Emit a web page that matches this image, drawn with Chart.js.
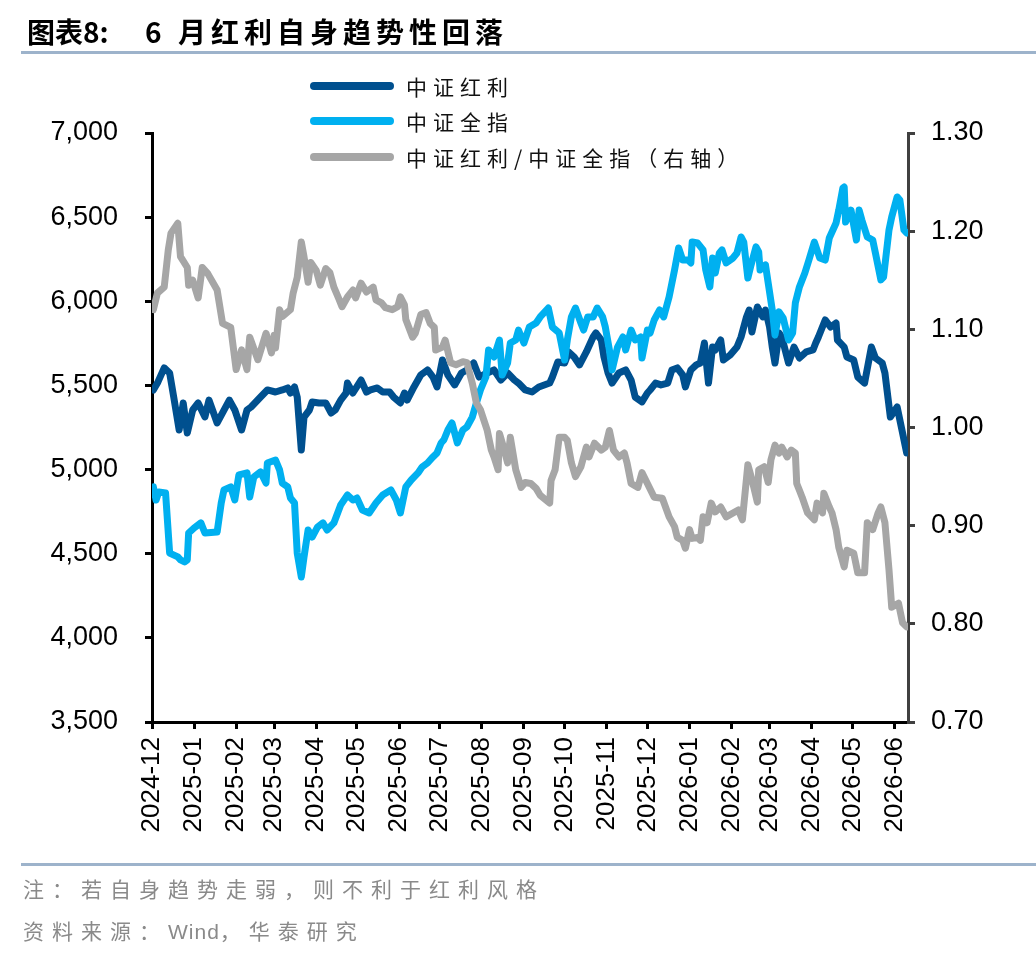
<!DOCTYPE html>
<html lang="zh">
<head>
<meta charset="UTF-8">
<title>6月红利自身趋势性回落</title>
<script src="https://cdn.jsdelivr.net/npm/chart.js"></script>
<style>
    body { margin: 0; background: #fff; }
    #wrap { position: relative; width: 1036px; height: 956px; overflow: hidden; }
    #chart { position: absolute; left: 0; top: 0; }
    .txt { position: absolute; white-space: nowrap; font-family: "Noto Sans CJK SC", sans-serif; }
    .rule { position: absolute; left: 21px; width: 1015px; height: 3px; background: #9db3cb; }
    .title { font-size: 28px; font-weight: 700; color: #000; line-height: 34px; top: 14px; }
    .leg-line { position: absolute; left: 310px; width: 84px; height: 8px; border-radius: 4px; }
    .leg-text { left: 406px; font-size: 21px; letter-spacing: 6px; color: #111; line-height: 26px; }
    .foot { left: 23px; font-size: 21px; letter-spacing: 8px; color: #8a8a8a; line-height: 26px; }
    .foot .en { letter-spacing: 1px; font-family: "Liberation Sans", Arial, sans-serif; }
</style>
</head>
<body>
<div id="wrap">
    <canvas id="chart" width="1036" height="956"></canvas>

    <div class="txt title" style="left:27px">图表8:</div>
    <div class="txt title" style="left:145px; letter-spacing:5px">6 月红利自身趋势性回落</div>
    <div class="rule" style="top:51px"></div>

    <div class="leg-line" style="top:82px; background:#00508f"></div>
    <div class="txt leg-text" style="top:73px">中证红利</div>
    <div class="leg-line" style="top:117px; background:#00b0f0"></div>
    <div class="txt leg-text" style="top:108px">中证全指</div>
    <div class="leg-line" style="top:153px; background:#a6a6a6"></div>
    <div class="txt leg-text" style="top:144px">中证红利/中证全指（右轴）</div>

    <div class="rule" style="top:863px"></div>
    <div class="txt foot" style="top:875px">注：若自身趋势走弱，则不利于红利风格</div>
    <div class="txt foot" style="top:917px">资料来源：<span class="en">Wind</span>，华泰研究</div>
</div>

<script>
    // x = days since 2024-12-01
    const monthLabels = ['2024-12', '2025-01', '2025-02', '2025-03', '2025-04', '2025-05', '2025-06',
        '2025-07', '2025-08', '2025-09', '2025-10', '2025-11', '2025-12', '2026-01', '2026-02',
        '2026-03', '2026-04', '2026-05', '2026-06'];

    // 中证红利 (left axis)
    const hongli = [[1,5473],[4,5514],[9,5604],[13,5574],[16,5431],[20,5235],[23,5396],[26,5217],[30,5354],[34,5396],
        [39,5313],[42,5413],[48,5277],[57,5413],[61,5354],[66,5235],[70,5354],[73,5372],[80,5431],[85,5473],
        [91,5461],[96,5473],[100,5485],[102,5455],[105,5491],[107,5431],[110,5116],[112,5312],[116,5354],[118,5402],
        [123,5396],[128,5396],[132,5336],[135,5354],[139,5413],[143,5455],[144,5514],[148,5455],[154,5532],[158,5461],
        [161,5473],[166,5485],[170,5461],[175,5461],[178,5431],[183,5396],[186,5455],[188,5413],[193,5491],[198,5562],
        [203,5592],[207,5550],[210,5491],[214,5651],[218,5562],[223,5503],[228,5574],[232,5592],[237,5633],[241,5550],
        [247,5574],[252,5592],[257,5532],[262,5574],[267,5532],[270,5514],[275,5473],[280,5461],[285,5491],[293,5514],
        [295,5550],[299,5639],[304,5633],[307,5699],[311,5669],[315,5622],[320,5699],[325,5788],[327,5812],[331,5770],
        [333,5669],[336,5574],[339,5514],[344,5574],[349,5592],[353,5532],[356,5431],[361,5402],[365,5455],[367,5473],
        [371,5514],[375,5503],[380,5514],[383,5592],[387,5604],[391,5562],[393,5491],[397,5592],[401,5622],[404,5633],
        [407,5752],[409,5592],[410,5514],[413,5728],[415,5711],[419,5770],[421,5651],[426,5681],[431,5728],[434,5788],
        [438,5907],[440,5948],[442,5818],[446,5966],[450,5907],[452,5948],[455,5847],[457,5728],[459,5633],[462,5812],
        [464,5788],[469,5633],[473,5728],[477,5663],[482,5699],[487,5711],[489,5752],[491,5788],[496,5889],[500,5847],
        [504,5871],[505,5770],[510,5728],[512,5669],[517,5651],[520,5550],[525,5514],[530,5728],[533,5663],[538,5633],
        [540,5574],[544,5312],[549,5372],[553,5217],[556,5099]];

    // 中证全指 (left axis)
    const quanzhi = [[1,4897],[3,4819],[5,4867],[10,4861],[13,4504],[19,4481],[21,4463],[24,4451],[26,4463],[27,4623],
        [31,4653],[36,4683],[39,4623],[48,4629],[51,4801],[53,4879],[58,4897],[61,4819],[64,4968],[70,4980],
        [72,4837],[75,4956],[80,4986],[84,4920],[85,5039],[91,5057],[94,4998],[96,4920],[100,4897],[102,4831],
        [105,4801],[107,4504],[110,4362],[112,4481],[115,4641],[118,4599],[122,4659],[126,4683],[129,4641],[134,4683],
        [139,4790],[144,4849],[148,4819],[151,4831],[155,4760],[160,4742],[165,4801],[170,4849],[176,4879],[180,4819],
        [183,4742],[187,4897],[191,4938],[196,4980],[199,5015],[203,5039],[207,5075],[210,5099],[213,5158],[215,5176],
        [218,5235],[221,5277],[225,5158],[229,5235],[232,5253],[236,5312],[239,5396],[242,5473],[246,5550],[248,5711],
        [252,5669],[256,5770],[258,5562],[262,5633],[264,5752],[268,5770],[270,5829],[274,5752],[278,5847],[283,5871],
        [286,5907],[292,5960],[295,5847],[300,5812],[304,5651],[306,5770],[309,5907],[312,5960],[316,5871],[318,5829],
        [321,5907],[325,5907],[328,5960],[332,5907],[334,5847],[337,5711],[339,5592],[343,5728],[347,5788],[349,5711],
        [353,5829],[356,5770],[360,5788],[361,5663],[365,5829],[367,5812],[370,5889],[374,5948],[377,5907],[381,6026],
        [385,6186],[388,6317],[391,6245],[395,6245],[397,6228],[398,6352],[402,6346],[406,6305],[408,6186],[411,6085],
        [413,6257],[415,6168],[418,6287],[420,6305],[423,6228],[428,6257],[431,6287],[434,6382],[436,6352],[439,6138],
        [441,6204],[445,6323],[447,6293],[448,6186],[452,6216],[454,6109],[457,5948],[459,5800],[462,5937],[465,5901],
        [469,5770],[472,5812],[474,5990],[477,6085],[481,6168],[484,6245],[488,6352],[492,6257],[496,6245],[499,6376],
        [504,6465],[506,6542],[509,6673],[510,6679],[511,6471],[515,6542],[519,6364],[521,6542],[523,6483],[527,6382],
        [531,6364],[533,6287],[537,6127],[539,6144],[543,6424],[545,6501],[549,6620],[551,6602],[554,6424],[556,6406]];

    // 中证红利/中证全指 (right axis)
    const ratio = [[1,1.120],[4,1.137],[9,1.143],[12,1.181],[14,1.198],[19,1.208],[21,1.174],[26,1.163],[27,1.145],[30,1.150],
        [34,1.132],[37,1.163],[41,1.157],[48,1.140],[52,1.106],[58,1.102],[62,1.059],[66,1.079],[70,1.059],[72,1.092],
        [78,1.069],[84,1.096],[88,1.076],[90,1.094],[91,1.081],[94,1.120],[96,1.113],[102,1.120],[104,1.137],[107,1.153],
        [110,1.189],[112,1.174],[115,1.148],[117,1.168],[121,1.160],[124,1.145],[128,1.162],[131,1.158],[134,1.143],[138,1.130],
        [140,1.123],[144,1.133],[148,1.140],[150,1.132],[154,1.147],[158,1.138],[163,1.143],[165,1.130],[169,1.127],[172,1.122],
        [177,1.120],[181,1.123],[183,1.133],[186,1.125],[187,1.110],[192,1.092],[194,1.096],[198,1.115],[202,1.117],[205,1.106],
        [208,1.102],[209,1.079],[214,1.082],[216,1.089],[220,1.066],[224,1.064],[229,1.067],[232,1.066],[236,1.045],[239,1.025],
        [242,1.018],[247,0.997],[250,0.977],[252,0.970],[255,0.957],[256,0.994],[259,0.980],[262,0.964],[264,0.990],[268,0.957],
        [272,0.939],[275,0.944],[279,0.943],[283,0.938],[286,0.931],[293,0.923],[294,0.946],[297,0.957],[300,0.990],[304,0.990],
        [306,0.987],[309,0.964],[312,0.950],[316,0.960],[320,0.980],[322,0.970],[326,0.984],[331,0.977],[334,0.980],[337,0.997],
        [340,0.977],[344,0.970],[348,0.974],[350,0.964],[353,0.943],[358,0.939],[361,0.954],[365,0.943],[370,0.929],[376,0.928],
        [381,0.909],[385,0.899],[387,0.888],[391,0.885],[393,0.877],[396,0.896],[398,0.887],[402,0.888],[404,0.885],[406,0.909],
        [409,0.903],[412,0.923],[415,0.914],[419,0.919],[423,0.909],[432,0.916],[435,0.906],[439,0.962],[442,0.947],[446,0.924],
        [447,0.957],[451,0.960],[454,0.944],[456,0.967],[459,0.982],[462,0.974],[464,0.980],[468,0.970],[471,0.977],[474,0.974],
        [475,0.943],[477,0.936],[479,0.929],[483,0.913],[488,0.906],[490,0.923],[494,0.913],[495,0.933],[499,0.919],[501,0.913],
        [504,0.896],[506,0.878],[510,0.858],[512,0.875],[517,0.872],[520,0.852],[525,0.852],[527,0.903],[531,0.896],[535,0.913],
        [537,0.919],[540,0.903],[543,0.855],[545,0.817],[550,0.821],[553,0.801],[556,0.797]];

    // month starts as day offsets, for the x tick marks
    const base = Date.UTC(2024, 11, 1);
    const monthDays = monthLabels.map(s => {
        const [y, m] = s.split('-').map(Number);
        return Math.round((Date.UTC(y, m - 1, 1) - base) / 864e5);
    });

    const toXY = arr => arr.map(([x, y]) => ({ x: x, y: y }));
    const numFont = { family: '"Liberation Sans", Arial, sans-serif', size: 27 };

    new Chart(document.getElementById('chart'), {
        type: 'line',
        data: {
            datasets: [{
                label: '中证红利',
                data: toXY(hongli),
                borderColor: '#00508f',
                yAxisID: 'y',
                order: 2
            }, {
                label: '中证全指',
                data: toXY(quanzhi),
                borderColor: '#00b0f0',
                yAxisID: 'y',
                order: 1
            }, {
                label: '中证红利/中证全指（右轴）',
                data: toXY(ratio),
                borderColor: '#a6a6a6',
                yAxisID: 'y1',
                order: 0
            }]
        },
        options: {
            responsive: false,
            animation: false,
            devicePixelRatio: 1,
            layout: { padding: { top: 133, bottom: 100, left: 0, right: 0 } },
            elements: {
                point: { radius: 0 },
                line: { borderWidth: 7, tension: 0, borderJoinStyle: 'round', borderCapStyle: 'round' }
            },
            plugins: { legend: { display: false }, tooltip: { enabled: false } },
            scales: {
                x: {
                    type: 'linear',
                    min: 0,
                    max: 557,
                    afterBuildTicks: s => { s.ticks = monthDays.map(v => ({ value: v })); },
                    afterFit: s => { s.height = 134; },
                    ticks: {
                        autoSkip: false,
                        minRotation: 90,
                        maxRotation: 90,
                        padding: 8,
                        color: '#000',
                        font: { family: numFont.family, size: 26 },
                        callback: (v, i) => monthLabels[i]
                    },
                    grid: { drawOnChartArea: false, drawTicks: true, tickLength: 7, color: '#000', lineWidth: 3 },
                    border: { color: '#000', width: 3 }
                },
                y: {
                    position: 'left',
                    min: 3500,
                    max: 7000,
                    afterFit: s => { s.width = 152; },
                    ticks: {
                        stepSize: 500,
                        padding: 27,
                        color: '#000',
                        font: numFont,
                        callback: v => v.toLocaleString('en-US')
                    },
                    grid: { drawOnChartArea: false, drawTicks: true, tickLength: 7, color: '#000', lineWidth: 3 },
                    border: { color: '#000', width: 3 }
                },
                y1: {
                    position: 'right',
                    min: 0.7,
                    max: 1.3,
                    afterFit: s => { s.width = 128; },
                    ticks: {
                        stepSize: 0.1,
                        padding: 16,
                        color: '#000',
                        font: numFont,
                        callback: v => v.toFixed(2)
                    },
                    grid: { drawOnChartArea: false, drawTicks: true, tickLength: 7, color: '#404040', lineWidth: 3 },
                    border: { color: '#404040', width: 3 }
                }
            }
        }
    });
</script>
</body>
</html>
